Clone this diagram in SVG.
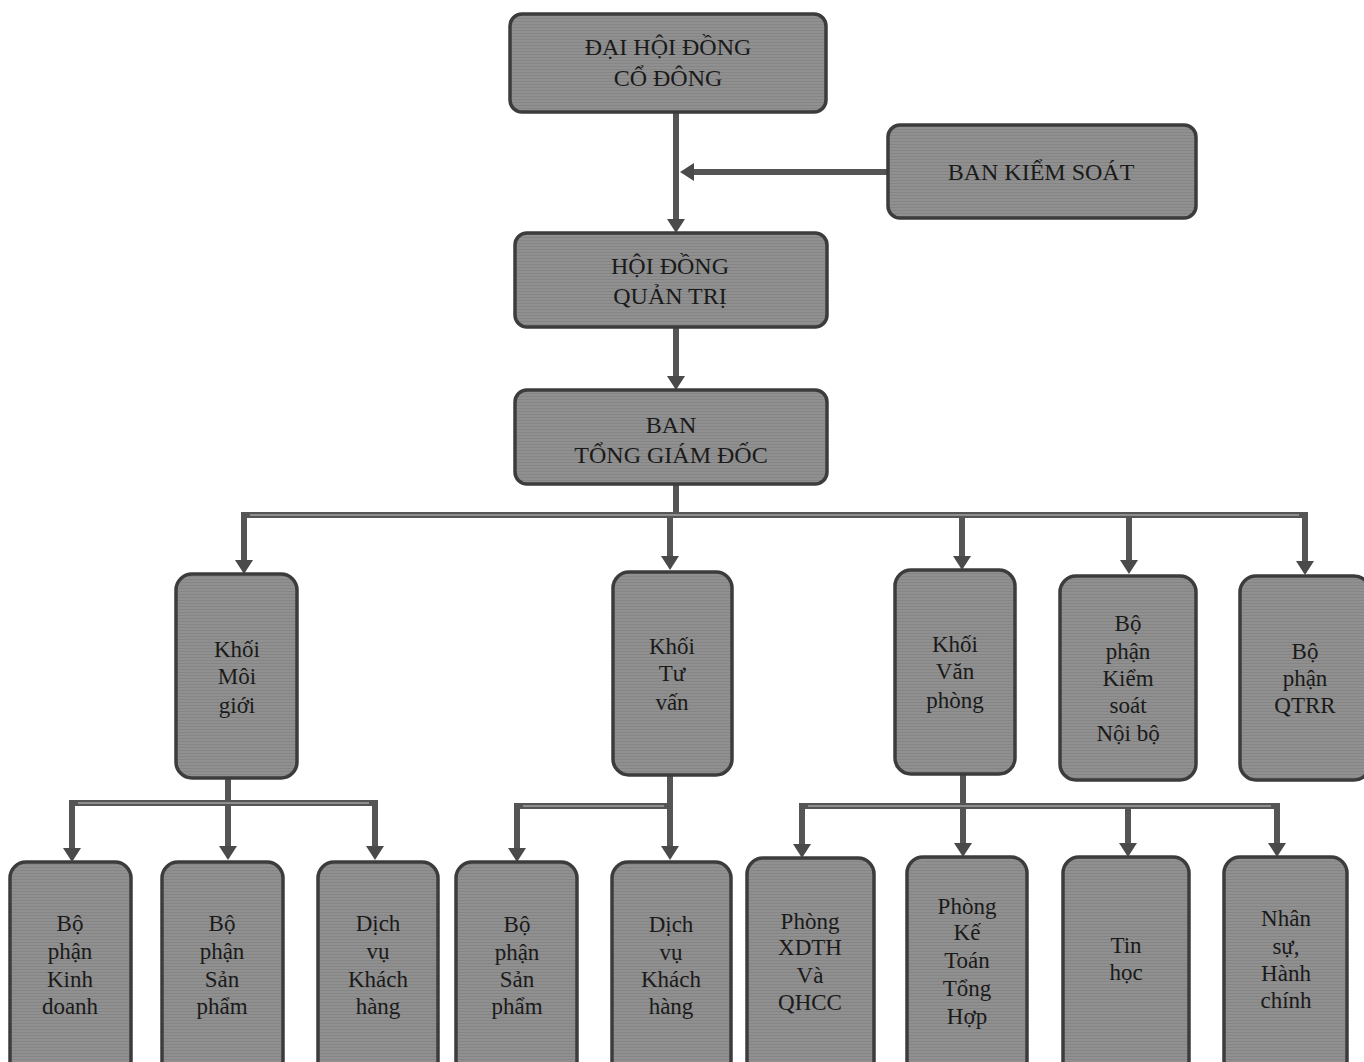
<svg xmlns="http://www.w3.org/2000/svg" width="1364" height="1062" viewBox="0 0 1364 1062">
<style>
.box{fill:url(#tex);stroke:#3c3c3c;stroke-width:3.5}
.t{font-family:"Liberation Serif","Times New Roman","DejaVu Serif",serif;fill:#1a1a1a;text-anchor:middle}
.big{font-size:24px}
.sm{font-size:23px}
.ln{fill:none;stroke:#555;stroke-width:6;stroke-linejoin:miter}
.in{fill:none;stroke:#8e8e8e;stroke-width:2}
</style>
<defs>
<pattern id="tex" patternUnits="userSpaceOnUse" width="6" height="3">
<rect width="6" height="3" fill="#909090"/>
<rect y="0" width="6" height="1" fill="#858585"/>
</pattern>
<marker id="ah" markerUnits="userSpaceOnUse" viewBox="0 0 14 18" markerWidth="14" markerHeight="18" refX="5" refY="9" orient="auto">
<path d="M0,0 L14,9 L0,18 z" fill="#4a4a4a"/>
</marker>
</defs>
<rect width="1364" height="1062" fill="#fff"/>

<g id="connectors">
<path class="ln" d="M676,112 V224" marker-end="url(#ah)"/>
<path class="ln" d="M888,172 H689" marker-end="url(#ah)"/>
<path class="ln" d="M676,327 V381" marker-end="url(#ah)"/>
<path class="ln" d="M676,484 V515"/>
<path class="ln" d="M244,515 H1305"/>
<path class="ln" d="M244,512 V565" marker-end="url(#ah)"/>
<path class="ln" d="M1305,512 V566" marker-end="url(#ah)"/>
<path class="ln" d="M670,515 V561" marker-end="url(#ah)"/>
<path class="ln" d="M962,515 V561" marker-end="url(#ah)"/>
<path class="ln" d="M1129,515 V565" marker-end="url(#ah)"/>
<path class="in" d="M250,515 H1299"/>
<path class="ln" d="M228,778 V851" marker-end="url(#ah)"/>
<path class="ln" d="M72,803 H375"/>
<path class="ln" d="M72,800 V853" marker-end="url(#ah)"/>
<path class="ln" d="M375,800 V851" marker-end="url(#ah)"/>
<path class="in" d="M78,803 H369"/>
<path class="ln" d="M670,775 V851" marker-end="url(#ah)"/>
<path class="ln" d="M517,806 H670"/>
<path class="ln" d="M517,803 V853" marker-end="url(#ah)"/>
<path class="in" d="M523,806 H664"/>
<path class="ln" d="M963,774 V848" marker-end="url(#ah)"/>
<path class="ln" d="M802,806 H1277"/>
<path class="ln" d="M802,803 V849" marker-end="url(#ah)"/>
<path class="ln" d="M1277,803 V848" marker-end="url(#ah)"/>
<path class="ln" d="M1128,806 V848" marker-end="url(#ah)"/>
<path class="in" d="M808,806 H1271"/>
</g>

<g id="dhdcd"><rect class="box" x="510" y="14" width="316" height="98" rx="12"/>
<text class="t big" x="668" y="55">ĐẠI HỘI ĐỒNG</text><text class="t big" x="668" y="86">CỔ ĐÔNG</text></g>
<g id="bks"><rect class="box" x="888" y="125" width="308" height="93" rx="12"/>
<text class="t big" x="1041" y="180">BAN KIỂM SOÁT</text></g>
<g id="hdqt"><rect class="box" x="515" y="233" width="312" height="94" rx="12"/>
<text class="t big" x="670" y="274">HỘI ĐỒNG</text><text class="t big" x="670" y="304">QUẢN TRỊ</text></g>
<g id="btgd"><rect class="box" x="515" y="390" width="312" height="94" rx="12"/>
<text class="t big" x="671" y="433">BAN</text><text class="t big" x="671" y="463">TỔNG GIÁM ĐỐC</text></g>

<g id="khoi-moigioi"><rect class="box" x="176" y="574" width="121" height="204" rx="16"/>
<text class="t sm" x="237" y="657">Khối</text><text class="t sm" x="237" y="684">Môi</text><text class="t sm" x="237" y="713">giới</text></g>
<g id="khoi-tuvan"><rect class="box" x="613" y="572" width="119" height="203" rx="16"/>
<text class="t sm" x="672" y="654">Khối</text><text class="t sm" x="672" y="681">Tư</text><text class="t sm" x="672" y="710">vấn</text></g>
<g id="khoi-vanphong"><rect class="box" x="895" y="570" width="120" height="204" rx="16"/>
<text class="t sm" x="955" y="652">Khối</text><text class="t sm" x="955" y="679">Văn</text><text class="t sm" x="955" y="708">phòng</text></g>
<g id="bp-ksnb"><rect class="box" x="1060" y="576" width="136" height="204" rx="16"/>
<text class="t sm" x="1128" y="631">Bộ</text><text class="t sm" x="1128" y="659">phận</text><text class="t sm" x="1128" y="686">Kiểm</text><text class="t sm" x="1128" y="713">soát</text><text class="t sm" x="1128" y="741">Nội bộ</text></g>
<g id="bp-qtrr"><rect class="box" x="1240" y="576" width="130" height="204" rx="16"/>
<text class="t sm" x="1305" y="659">Bộ</text><text class="t sm" x="1305" y="686">phận</text><text class="t sm" x="1305" y="713">QTRR</text></g>

<g id="bp-kinhdoanh"><rect class="box" x="10" y="862" width="121" height="215" rx="16"/>
<text class="t sm" x="70" y="931">Bộ</text><text class="t sm" x="70" y="959">phận</text><text class="t sm" x="70" y="987">Kinh</text><text class="t sm" x="70" y="1014">doanh</text></g>
<g id="bp-sanpham-1"><rect class="box" x="162" y="862" width="121" height="215" rx="16"/>
<text class="t sm" x="222" y="931">Bộ</text><text class="t sm" x="222" y="959">phận</text><text class="t sm" x="222" y="987">Sản</text><text class="t sm" x="222" y="1014">phẩm</text></g>
<g id="dvkh-1"><rect class="box" x="318" y="862" width="120" height="215" rx="16"/>
<text class="t sm" x="378" y="931">Dịch</text><text class="t sm" x="378" y="959">vụ</text><text class="t sm" x="378" y="987">Khách</text><text class="t sm" x="378" y="1014">hàng</text></g>
<g id="bp-sanpham-2"><rect class="box" x="456" y="862" width="121" height="215" rx="16"/>
<text class="t sm" x="517" y="932">Bộ</text><text class="t sm" x="517" y="960">phận</text><text class="t sm" x="517" y="987">Sản</text><text class="t sm" x="517" y="1014">phẩm</text></g>
<g id="dvkh-2"><rect class="box" x="612" y="862" width="119" height="215" rx="16"/>
<text class="t sm" x="671" y="932">Dịch</text><text class="t sm" x="671" y="960">vụ</text><text class="t sm" x="671" y="987">Khách</text><text class="t sm" x="671" y="1014">hàng</text></g>
<g id="phong-xdth"><rect class="box" x="747" y="858" width="127" height="219" rx="16"/>
<text class="t sm" x="810" y="929">Phòng</text><text class="t sm" x="810" y="955">XDTH</text><text class="t sm" x="810" y="983">Và</text><text class="t sm" x="810" y="1010">QHCC</text></g>
<g id="phong-ketoan"><rect class="box" x="907" y="857" width="120" height="220" rx="16"/>
<text class="t sm" x="967" y="914">Phòng</text><text class="t sm" x="967" y="940">Kế</text><text class="t sm" x="967" y="968">Toán</text><text class="t sm" x="967" y="996">Tổng</text><text class="t sm" x="967" y="1024">Hợp</text></g>
<g id="tinhoc"><rect class="box" x="1063" y="857" width="126" height="220" rx="16"/>
<text class="t sm" x="1126" y="953">Tin</text><text class="t sm" x="1126" y="980">học</text></g>
<g id="nhansu"><rect class="box" x="1224" y="857" width="123" height="220" rx="16"/>
<text class="t sm" x="1286" y="926">Nhân</text><text class="t sm" x="1286" y="954">sự,</text><text class="t sm" x="1286" y="981">Hành</text><text class="t sm" x="1286" y="1008">chính</text></g>
</svg>
